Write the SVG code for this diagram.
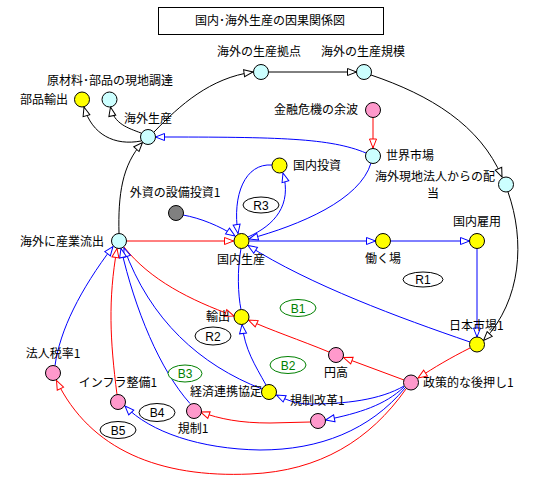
<svg xmlns="http://www.w3.org/2000/svg" width="540" height="490" viewBox="0 0 540 490">
<defs>
<style>
text{font-family:"Noto Sans CJK JP","Noto Sans CJK SC",sans-serif;font-size:12px;fill:#000}
.t{font-family:"Liberation Sans",Arial,sans-serif;font-size:12px}
.c{stroke:#000;stroke-width:1}
.y{fill:#ffff00}.cy{fill:#ccffff}.p{fill:#ff99cc}.g{fill:#808080}
.k{fill:none;stroke:#000;stroke-width:1;marker-end:url(#mk)}
.b{fill:none;stroke:#0000ff;stroke-width:1;marker-end:url(#mb)}
.r{fill:none;stroke:#ff0000;stroke-width:1;marker-end:url(#mr)}
.bn{fill:none;stroke:#0000ff;stroke-width:1}
.lp{fill:#fff;stroke:#000;stroke-width:1}
.lg{fill:#fff;stroke:#008000;stroke-width:1}
.tg{fill:#008000}
</style>
<marker id="mk" markerUnits="userSpaceOnUse" markerWidth="11" markerHeight="9" refX="9" refY="3.5" orient="auto" overflow="visible"><path d="M0,0 L9,3.5 L0,7 Z" fill="#fff" stroke="#000"/></marker>
<marker id="mb" markerUnits="userSpaceOnUse" markerWidth="11" markerHeight="9" refX="9" refY="3.5" orient="auto" overflow="visible"><path d="M0,0 L9,3.5 L0,7 Z" fill="#fff" stroke="#0000ff"/></marker>
<marker id="mr" markerUnits="userSpaceOnUse" markerWidth="11" markerHeight="9" refX="9" refY="3.5" orient="auto" overflow="visible"><path d="M0,0 L9,3.5 L0,7 Z" fill="#fff" stroke="#ff0000"/></marker>
</defs>
<rect width="540" height="490" fill="#fff"/>
<g id="title"><rect x="158.5" y="7.5" width="225" height="27" fill="#fff" stroke="#000"/><text x="270" y="25" text-anchor="middle">国内･海外生産の因果関係図</text></g>
<g id="connectors">
<path class="k" d="M119,233.5 C118,195 122,165 142.5,142.5"/>
<path class="k" d="M141,141 C115,146 92,135 84,107"/>
<path class="k" d="M141,133 C128,128 114,124 110.5,107"/>
<path class="k" d="M154,132 C180,105 210,78 253,72"/>
<path class="k" d="M268.5,72 L356.5,72"/>
<path class="k" d="M371,75 C430,95 480,125 502,177"/>
<path class="k" d="M508,192 C525,240 522,300 483.5,340.5"/>
<path class="b" d="M366,153 C330,138 280,137 155.5,137"/>
<path class="r" d="M373,117.5 L373,148"/>
<path class="b" d="M371,163 C360,200 300,225 249,239"/>
<path class="b" d="M248,237 C275,225 292,205 283,173"/>
<path class="b" d="M272,165 C245,163 232,195 238,233.5"/>
<path class="b" d="M183,215 C200,218 220,226 235,236"/>
<path class="r" d="M126.5,241 L233.5,241"/>
<path class="b" d="M249.5,241 L375.5,241"/>
<path class="b" d="M390.5,241 L469.5,241"/>
<path class="b" d="M477,248.5 L477,337"/>
<path class="b" d="M470,342 C400,318 310,285 248,245.5"/>
<path class="bn" d="M241,248.5 C237,270 238,295 241,309.5"/>
<path class="r" d="M124,247 C150,280 190,300 234,316"/>
<path class="r" d="M329,352 C300,340 270,330 248.5,320"/>
<path class="r" d="M404,380 L343.5,357.5"/>
<path class="r" d="M470,348 C450,358 435,367 418,378"/>
<path class="b" d="M266,385 C255,365 245,350 242,324.5"/>
<path class="b" d="M262,389 C200,365 150,320 124,248"/>
<path class="b" d="M190,403.5 C160,370 135,310 121,248.5"/>
<path class="b" d="M55,365.5 C60,330 80,290 113,246.5"/>
<path class="r" d="M117,394.5 C110,340 108,300 117,248.5"/>
<path class="b" d="M404,386 C380,400 345,404 310,404 C295,404 285,399 276.5,395"/>
<path class="b" d="M404,387 C385,405 360,413 325.5,420"/>
<path class="r" d="M310.5,422 L270,423 C240,423 220,419 200.5,412"/>
<path class="b" d="M405,388 C370,430 320,450 260,450 C200,449 150,432 125,406"/>
<path class="r" d="M406,389 C370,440 320,471 250,474 C160,478 90,450 56.5,380.5"/>
</g>
<g id="loops">
<g id="R1"><ellipse class="lp" cx="423" cy="279.5" rx="20" ry="7.5"/><text class="t" x="423" y="284" text-anchor="middle">R1</text></g>
<g id="R3"><ellipse class="lp" cx="261" cy="205" rx="18" ry="8"/><text class="t" x="261" y="209.5" text-anchor="middle">R3</text></g>
<g id="B1"><ellipse class="lg" cx="298" cy="308" rx="18" ry="8.5"/><text class="t tg" x="298" y="312.5" text-anchor="middle">B1</text></g>
<g id="R2"><ellipse class="lp" cx="213" cy="336" rx="18" ry="9"/><text class="t" x="213" y="340.5" text-anchor="middle">R2</text></g>
<g id="B2"><ellipse class="lg" cx="288" cy="365" rx="18" ry="8.5"/><text class="t tg" x="288" y="369.5" text-anchor="middle">B2</text></g>
<g id="B3"><ellipse class="lg" cx="185" cy="373.5" rx="17" ry="8.5"/><text class="t tg" x="185" y="378" text-anchor="middle">B3</text></g>
<g id="B4"><ellipse class="lp" cx="157" cy="412.5" rx="18" ry="9"/><text class="t" x="157" y="417" text-anchor="middle">B4</text></g>
<g id="B5"><ellipse class="lp" cx="118" cy="430" rx="18" ry="8.5"/><text class="t" x="118" y="434.5" text-anchor="middle">B5</text></g>
</g>
<g id="n-buhinyushutsu"><circle class="c y" cx="82" cy="99.5" r="7.5"/><text x="68" y="104" text-anchor="end">部品輸出</text></g>
<g id="n-genzairyo"><circle class="c cy" cx="109.5" cy="99.5" r="7.5"/><text x="110" y="85" text-anchor="middle">原材料･部品の現地調達</text></g>
<g id="n-kaigaiseisan"><circle class="c cy" cx="148" cy="137" r="7.5"/><text x="148" y="123" text-anchor="middle">海外生産</text></g>
<g id="n-kyoten"><circle class="c cy" cx="261" cy="72" r="7.5"/><text x="259" y="56" text-anchor="middle">海外の生産拠点</text></g>
<g id="n-kibo"><circle class="c cy" cx="364" cy="72" r="7.5"/><text x="363" y="56" text-anchor="middle">海外の生産規模</text></g>
<g id="n-kinyu"><circle class="c p" cx="373" cy="110" r="7.5"/><text x="358" y="114" text-anchor="end">金融危機の余波</text></g>
<g id="n-sekaishijo"><circle class="c cy" cx="373" cy="156" r="7.5"/><text x="386" y="160">世界市場</text></g>
<g id="n-kokunaitoshi"><circle class="c y" cx="279.5" cy="165.5" r="7.5"/><text x="293" y="170">国内投資</text></g>
<g id="n-haito"><circle class="c cy" cx="506" cy="184.5" r="7.5"/><text x="375" y="181">海外現地法人からの配</text><text x="433" y="198" text-anchor="middle">当</text></g>
<g id="n-gaishi"><circle class="c g" cx="176" cy="213" r="7.5"/><text x="175" y="197" text-anchor="middle">外資の設備投資1</text></g>
<g id="n-ryushutsu"><circle class="c cy" cx="119" cy="241" r="7.5"/><text x="104" y="246" text-anchor="end">海外に産業流出</text></g>
<g id="n-kokunaiseisan"><circle class="c y" cx="241.5" cy="241" r="7.5"/><text x="241" y="264" text-anchor="middle">国内生産</text></g>
<g id="n-hatarakuba"><circle class="c y" cx="383" cy="241" r="7.5"/><text x="383" y="263" text-anchor="middle">働く場</text></g>
<g id="n-koyo"><circle class="c y" cx="477" cy="241" r="7.5"/><text x="477" y="226" text-anchor="middle">国内雇用</text></g>
<g id="n-yushutsu"><circle class="c y" cx="241.5" cy="317" r="7.5"/><text x="230" y="321" text-anchor="end">輸出</text></g>
<g id="n-nihonshijo"><circle class="c y" cx="477" cy="344.5" r="7.5"/><text x="449" y="330">日本市場1</text></g>
<g id="n-endaka"><circle class="c p" cx="336" cy="355" r="7.5"/><text x="336" y="377" text-anchor="middle">円高</text></g>
<g id="n-hojinzei"><circle class="c p" cx="53" cy="373" r="7.5"/><text x="53" y="358" text-anchor="middle">法人税率1</text></g>
<g id="n-infra"><circle class="c p" cx="118" cy="402" r="7.5"/><text x="118" y="387" text-anchor="middle">インフラ整備1</text></g>
<g id="n-keizairenkei"><circle class="c y" cx="269" cy="392" r="7.5"/><text x="262" y="396" text-anchor="end">経済連携協定</text></g>
<g id="n-kiseikaikaku"><circle class="c p" cx="318" cy="421" r="7.5"/><text x="290" y="405">規制改革1</text></g>
<g id="n-kisei"><circle class="c p" cx="194" cy="411" r="7.5"/><text x="193" y="433" text-anchor="middle">規制1</text></g>
<g id="n-seisaku"><circle class="c p" cx="411" cy="382.5" r="7.5"/><text x="423" y="387">政策的な後押し1</text></g>
</svg>
